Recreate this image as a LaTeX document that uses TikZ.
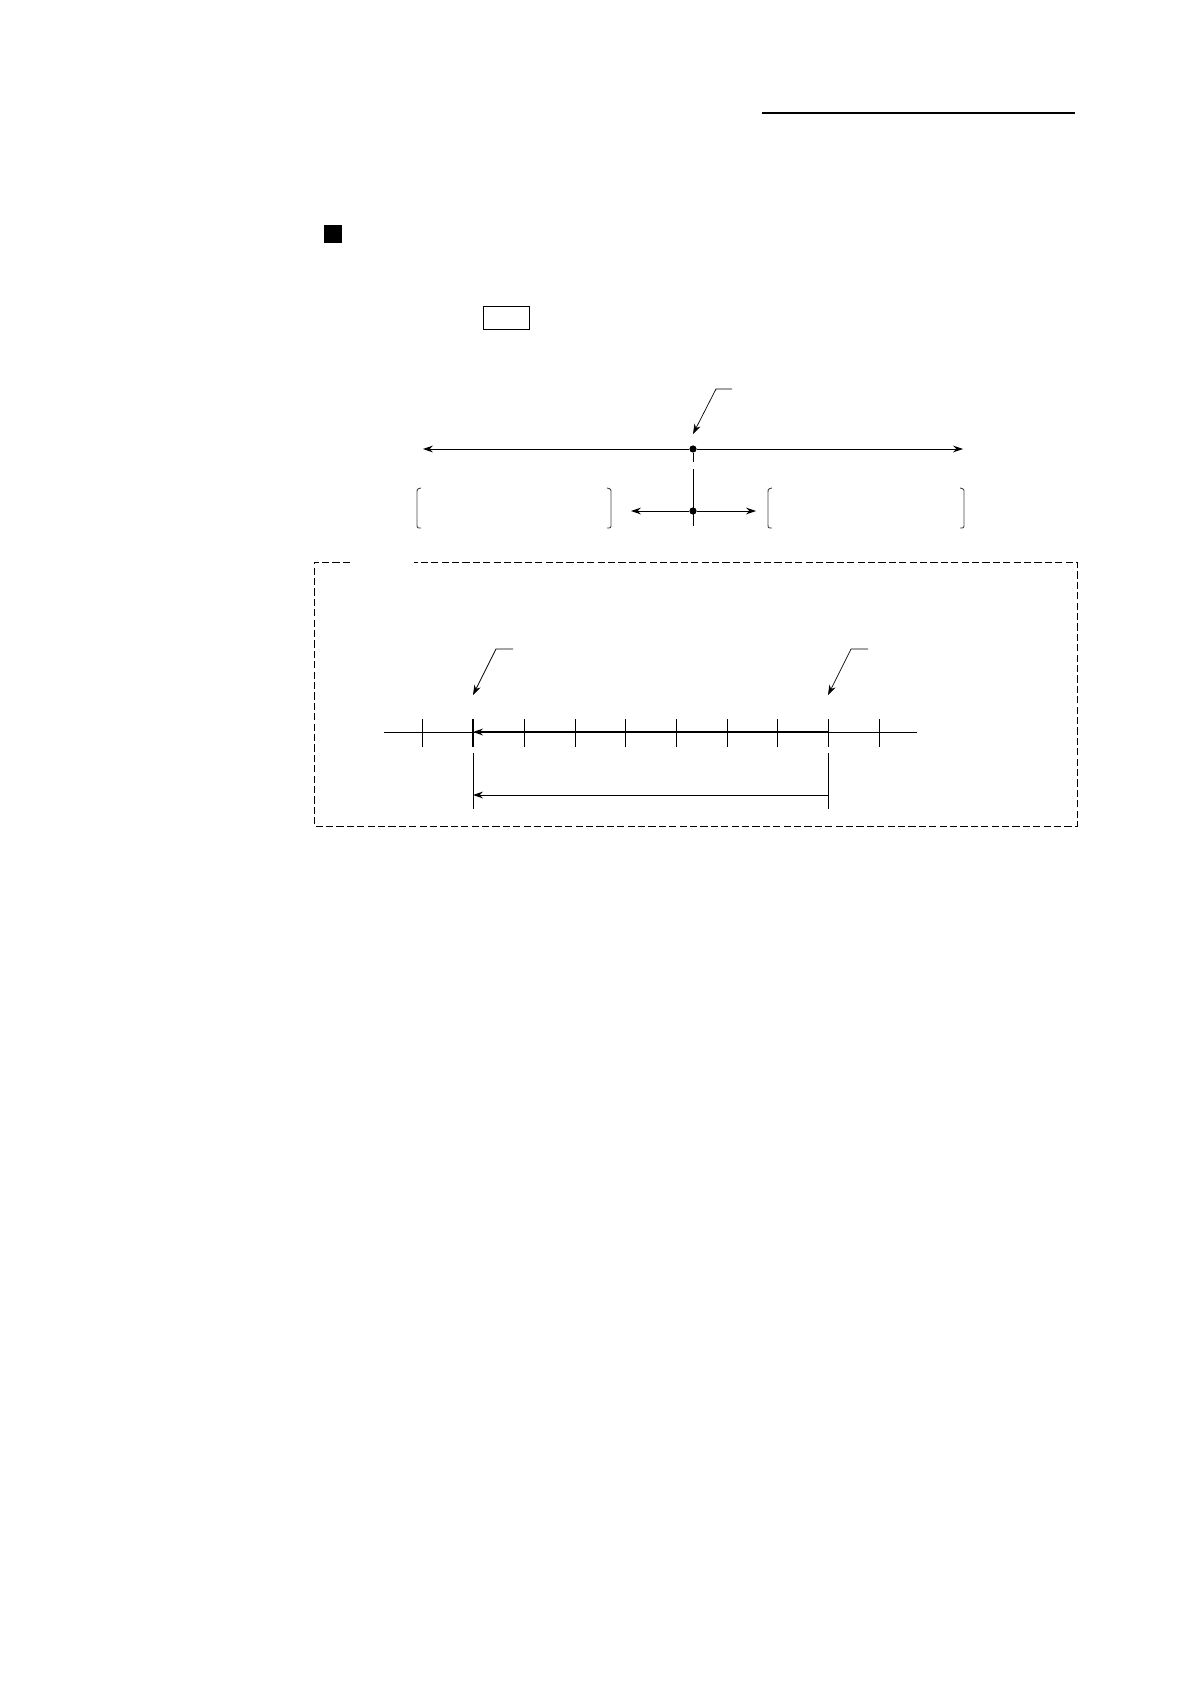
\documentclass[tikz,border=0pt]{standalone}
\usetikzlibrary{arrows.meta}
\begin{document}
\begin{tikzpicture}[x=0.5pt,y=-0.5pt,
  thinline/.style={line width=0.5pt},
  hairline/.style={line width=0.35pt},
  thickline/.style={line width=1.1pt},
  arr/.style={-{Stealth[length=5pt,width=3.4pt]}},
  brk/.style={line width=0.45pt,gray!55!black},
  dot/.style={circle,fill=black,inner sep=0pt,minimum size=3.6pt},
  dashbox/.style={line width=0.45pt,dash pattern=on 3.6pt off 1.6pt}]
\useasboundingbox (0,0) rectangle (1190,1684);
% header rule
\coordinate (h1) at (762,113); \coordinate (h2) at (1075,113);
\draw[line width=0.8pt] (h1) -- (h2);
% black square
\fill (324,225) rectangle (342,243);
% small box
\node[draw,thinline,minimum width=23pt,minimum height=11.5pt,inner sep=0pt] (sbox) at (506,318.5) {};
% main axis
\coordinate (axL) at (423,449); \coordinate (axR) at (963,449);
\node[dot] (d1) at (693,449) {};
\draw[thinline,arr] (d1) -- (axL);
\draw[thinline,arr] (d1) -- (axR);
% leader to top dot
\coordinate (l1a) at (732,389); \coordinate (l1b) at (716,389); \coordinate (l1t) at (693,434);
\draw[hairline,arr] (l1a) -- (l1b) -- (l1t);
% vertical line (broken)
\coordinate (v1) at (693,462); \coordinate (v2) at (693,469); \coordinate (v3) at (693,526);
\draw[thinline] (d1) -- (v1);
\draw[thinline] (v2) -- (v3);
% lower double arrow
\node[dot] (d2) at (693,511) {};
\coordinate (daL) at (631,511); \coordinate (daR) at (756,511);
\draw[thinline,arr] (d2) -- (daL);
\draw[thinline,arr] (d2) -- (daR);
% brackets
\draw[brk] (421,488) .. controls (417,489) .. (417,493) -- (417,524) .. controls (417,528) .. (421,528);
\draw[brk] (607,488) .. controls (611,489) .. (611,493) -- (611,524) .. controls (611,528) .. (607,528);
\draw[brk] (772,488) .. controls (768,489) .. (768,493) -- (768,524) .. controls (768,528) .. (772,528);
\draw[brk] (960,488) .. controls (964,489) .. (964,493) -- (964,524) .. controls (964,528) .. (960,528);
% dashed frame with gap at top left
\coordinate (fA) at (350,562); \coordinate (fB) at (314,562); \coordinate (fC) at (314,826);
\coordinate (fD) at (1077,826); \coordinate (fE) at (1077,562); \coordinate (fF) at (414,562);
\draw[dashbox] (fA) -- (fB) -- (fC) -- (fD) -- (fE) -- (fF);
% number line
\coordinate (nL) at (384,732); \coordinate (nR) at (917,732);
\draw[thinline] (nL) -- (nR);
\foreach \x in {422,524,575,625,676,727,777,828,879}
  \draw[thinline] (\x,719) -- (\x,747);
\draw[line width=1.3pt] (473,719) -- (473,747);
\coordinate (sA) at (828,732); \coordinate (sB) at (473,732);
\draw[thickline,arr] (sA) -- (sB);
% leaders on number line
\coordinate (l2a) at (513,649); \coordinate (l2b) at (496,649); \coordinate (l2t) at (473,695);
\draw[hairline,arr] (l2a) -- (l2b) -- (l2t);
\coordinate (l3a) at (868,649); \coordinate (l3b) at (851,649); \coordinate (l3t) at (828,695);
\draw[hairline,arr] (l3a) -- (l3b) -- (l3t);
% dimension
\coordinate (e1a) at (473,753); \coordinate (e1b) at (473,809);
\coordinate (e2a) at (828,753); \coordinate (e2b) at (828,809);
\draw[thinline] (e1a) -- (e1b);
\draw[thinline] (e2a) -- (e2b);
\coordinate (mA) at (828,795); \coordinate (mB) at (473,795);
\draw[thinline,arr] (mA) -- (mB);
\end{tikzpicture}
\end{document}
